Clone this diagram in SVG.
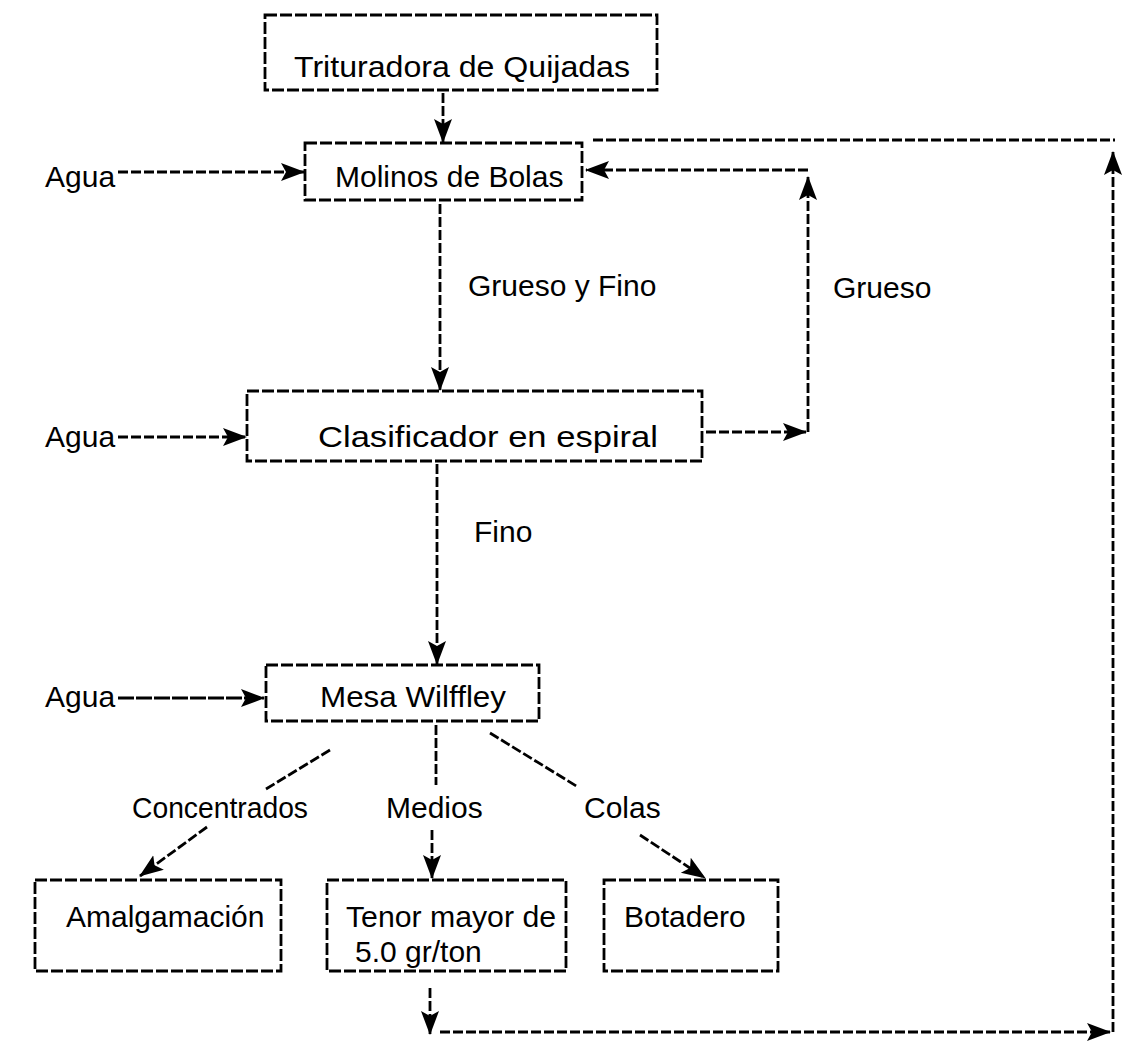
<svg xmlns="http://www.w3.org/2000/svg" width="1125" height="1049" viewBox="0 0 1125 1049">
<defs>
<marker id="ah" viewBox="0 0 24 20" refX="23" refY="10" markerWidth="24" markerHeight="20" markerUnits="userSpaceOnUse" orient="auto">
<path d="M0,1 L24,10 L0,19 L5,10 Z" fill="#000"/>
</marker>
<style>
.box{fill:none;stroke:#000;stroke-width:2.8;stroke-dasharray:12 3}
.ln{fill:none;stroke:#000;stroke-width:2.8;stroke-dasharray:10 3}
.sol{fill:none;stroke:#000;stroke-width:2.8;stroke-dasharray:16 2}
.t{font-family:"Liberation Sans",Arial,sans-serif;font-size:30px;fill:#000}
</style>
</defs>
<rect width="1125" height="1049" fill="#fff"/>
<g id="trituradora"><rect class="box" x="265" y="15" width="392" height="75"/><text class="t" x="294" y="77" textLength="336" lengthAdjust="spacingAndGlyphs">Trituradora de Quijadas</text></g>
<g id="molinos"><rect class="box" x="305" y="143" width="277" height="57"/><text class="t" x="335" y="187">Molinos de Bolas</text></g>
<g id="clasificador"><rect class="box" x="247" y="391" width="455" height="70"/><text class="t" x="318" y="447" textLength="340" lengthAdjust="spacingAndGlyphs">Clasificador en espiral</text></g>
<g id="mesa"><rect class="box" x="266" y="665" width="273" height="56"/><text class="t" x="320" y="707" textLength="186" lengthAdjust="spacingAndGlyphs">Mesa Wilffley</text></g>
<g id="amalgamacion"><rect class="box" x="35" y="880" width="246" height="91"/><text class="t" x="66" y="927">Amalgamación</text></g>
<g id="tenor"><rect class="box" x="327" y="880" width="239" height="91"/><text class="t" x="346" y="927" textLength="210" lengthAdjust="spacingAndGlyphs">Tenor mayor de</text><text class="t" x="355" y="962">5.0 gr/ton</text></g>
<g id="botadero"><rect class="box" x="604" y="880" width="174" height="91"/><text class="t" x="624" y="927">Botadero</text></g>
<g id="labels">
<text class="t" x="45" y="187">Agua</text>
<text class="t" x="45" y="447">Agua</text>
<text class="t" x="45" y="707">Agua</text>
<text class="t" x="468" y="296">Grueso y Fino</text>
<text class="t" x="833" y="298">Grueso</text>
<text class="t" x="474" y="542">Fino</text>
<text class="t" x="132" y="818" textLength="176" lengthAdjust="spacingAndGlyphs">Concentrados</text>
<text class="t" x="386" y="818">Medios</text>
<text class="t" x="584" y="818">Colas</text>
</g>
<g id="connectors">
<line class="ln" x1="443" y1="93" x2="443" y2="142" marker-end="url(#ah)"/>
<line class="ln" x1="118" y1="172" x2="304" y2="172" marker-end="url(#ah)"/>
<line class="ln" x1="440" y1="204" x2="440" y2="390" marker-end="url(#ah)"/>
<line class="ln" x1="118" y1="437" x2="246" y2="437" marker-end="url(#ah)"/>
<line class="ln" x1="706" y1="432" x2="806" y2="432" marker-end="url(#ah)"/>
<line class="ln" x1="808" y1="432" x2="808" y2="177" marker-end="url(#ah)"/>
<line class="ln" x1="808" y1="170" x2="586" y2="170" marker-end="url(#ah)"/>
<line class="ln" x1="593" y1="140" x2="1115" y2="140"/>
<line class="ln" x1="1113" y1="1032" x2="1113" y2="152" marker-end="url(#ah)"/>
<line class="ln" x1="437" y1="464" x2="437" y2="664" marker-end="url(#ah)"/>
<line class="sol" x1="118" y1="698" x2="264" y2="698" marker-end="url(#ah)"/>
<line class="ln" x1="330" y1="750" x2="266" y2="789"/>
<line class="ln" x1="207" y1="827" x2="140" y2="876" marker-end="url(#ah)"/>
<line class="ln" x1="436" y1="725" x2="436" y2="785"/>
<line class="ln" x1="432" y1="830" x2="432" y2="878" marker-end="url(#ah)"/>
<line class="ln" x1="490" y1="733" x2="578" y2="787"/>
<line class="ln" x1="640" y1="835" x2="705" y2="878" marker-end="url(#ah)"/>
<line class="ln" x1="430" y1="988" x2="430" y2="1034" marker-end="url(#ah)"/>
<line class="ln" x1="440" y1="1032" x2="1110" y2="1032" marker-end="url(#ah)"/>
</g>
</svg>
